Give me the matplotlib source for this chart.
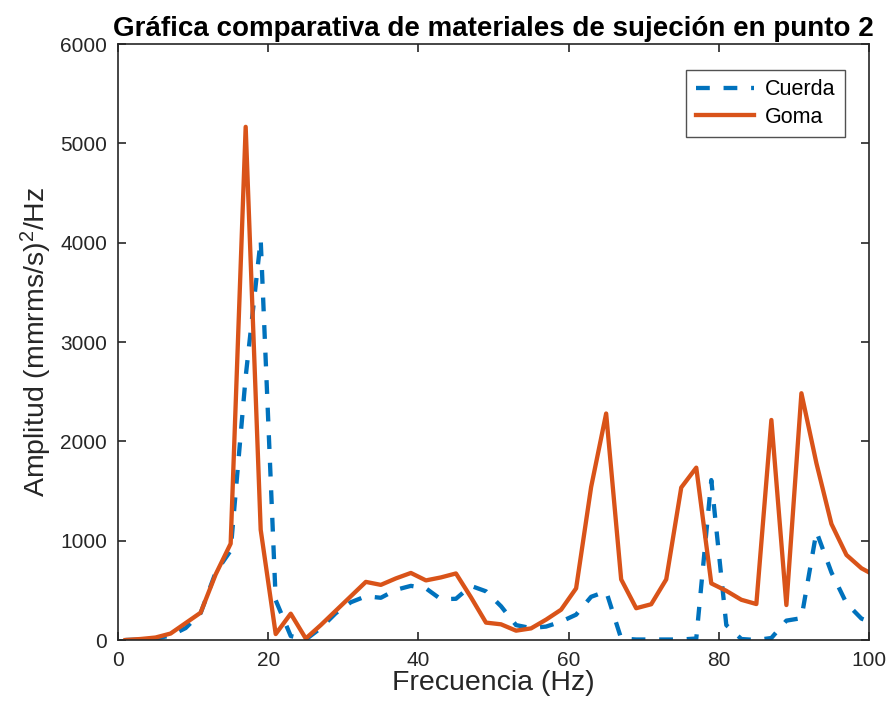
import matplotlib
matplotlib.use("Agg")
import matplotlib.pyplot as plt

plt.rcParams['font.family'] = ['Liberation Sans', 'DejaVu Sans']
plt.rcParams['mathtext.fontset'] = 'custom'
plt.rcParams['mathtext.rm'] = 'Liberation Sans'
plt.rcParams['mathtext.it'] = 'Liberation Sans:italic'

freq = list(range(1, 102, 2))

cuerda = [0, 5, 15, 45, 120, 270, 680, 900, 2650, 4030,
          400, 40, 5, 120, 270, 380, 440, 425, 505, 545,
          520, 410, 415, 545, 490, 340, 150, 120, 135, 185,
          255, 435, 490, 15, 5, 5, 5, 5, 15, 1610,
          150, 10, 0, 20, 195, 220, 1090, 680, 370, 215, 160]

goma = [0, 10, 25, 65, 170, 275, 660, 970, 5166, 1110,
        60, 265, 15, 150, 295, 440, 585, 555, 620, 675,
        600, 630, 670, 430, 175, 158, 94, 117, 205, 305,
        520, 1540, 2280, 610, 320, 360, 610, 1535, 1735, 570,
        495, 405, 362, 2215, 352, 2484, 1779, 1168, 856, 722, 640]

xticks = [0, 20, 40, 60, 80, 100]
yticks = [0, 1000, 2000, 3000, 4000, 5000, 6000]

fig = plt.figure(figsize=(8.91, 7.2), dpi=100)
ax = fig.add_axes([118/891, 80/720, (869-118)/891, (640-44)/720])

ax.plot(freq, cuerda, color='#0072BD', lw=3.1, linestyle=(0, (3.2, 3.2)), label='Cuerda')
ax.plot(freq, goma, color='#D95319', lw=3.1, label='Goma')

ax.set_xlim(0, 100)
ax.set_ylim(0, 6000)
ax.set_xticks(xticks)
ax.set_yticks(yticks)
ax.set_xticklabels([str(v) for v in xticks])
ax.set_yticklabels([str(v) for v in yticks])

ax.tick_params(direction='in', length=6, width=1.2, colors='#262626',
               labelsize=15, top=True, right=True, pad=8)
for s in ax.spines.values():
    s.set_color('#262626')
    s.set_linewidth(1.2)

ax.set_xlabel('Frecuencia (Hz)', fontsize=20.5, color='#262626', labelpad=0)
ax.set_ylabel(r'Amplitud (mmrms/s)$^2$/Hz', fontsize=20.5, color='#262626', labelpad=4)
ax.set_title('Gráfica comparativa de materiales de sujeción en punto 2',
             fontsize=20, fontweight='bold', pad=6)

leg = ax.legend(loc='upper right', bbox_to_anchor=(0.968, 0.957), fontsize=15.5,
                frameon=True, fancybox=False, handlelength=2.7, borderpad=0.45,
                labelspacing=0.3, handletextpad=0.5, borderaxespad=0)
leg.get_frame().set_edgecolor('#262626')
leg.get_frame().set_linewidth(1.0)

fig.savefig('out.png', dpi=100)
